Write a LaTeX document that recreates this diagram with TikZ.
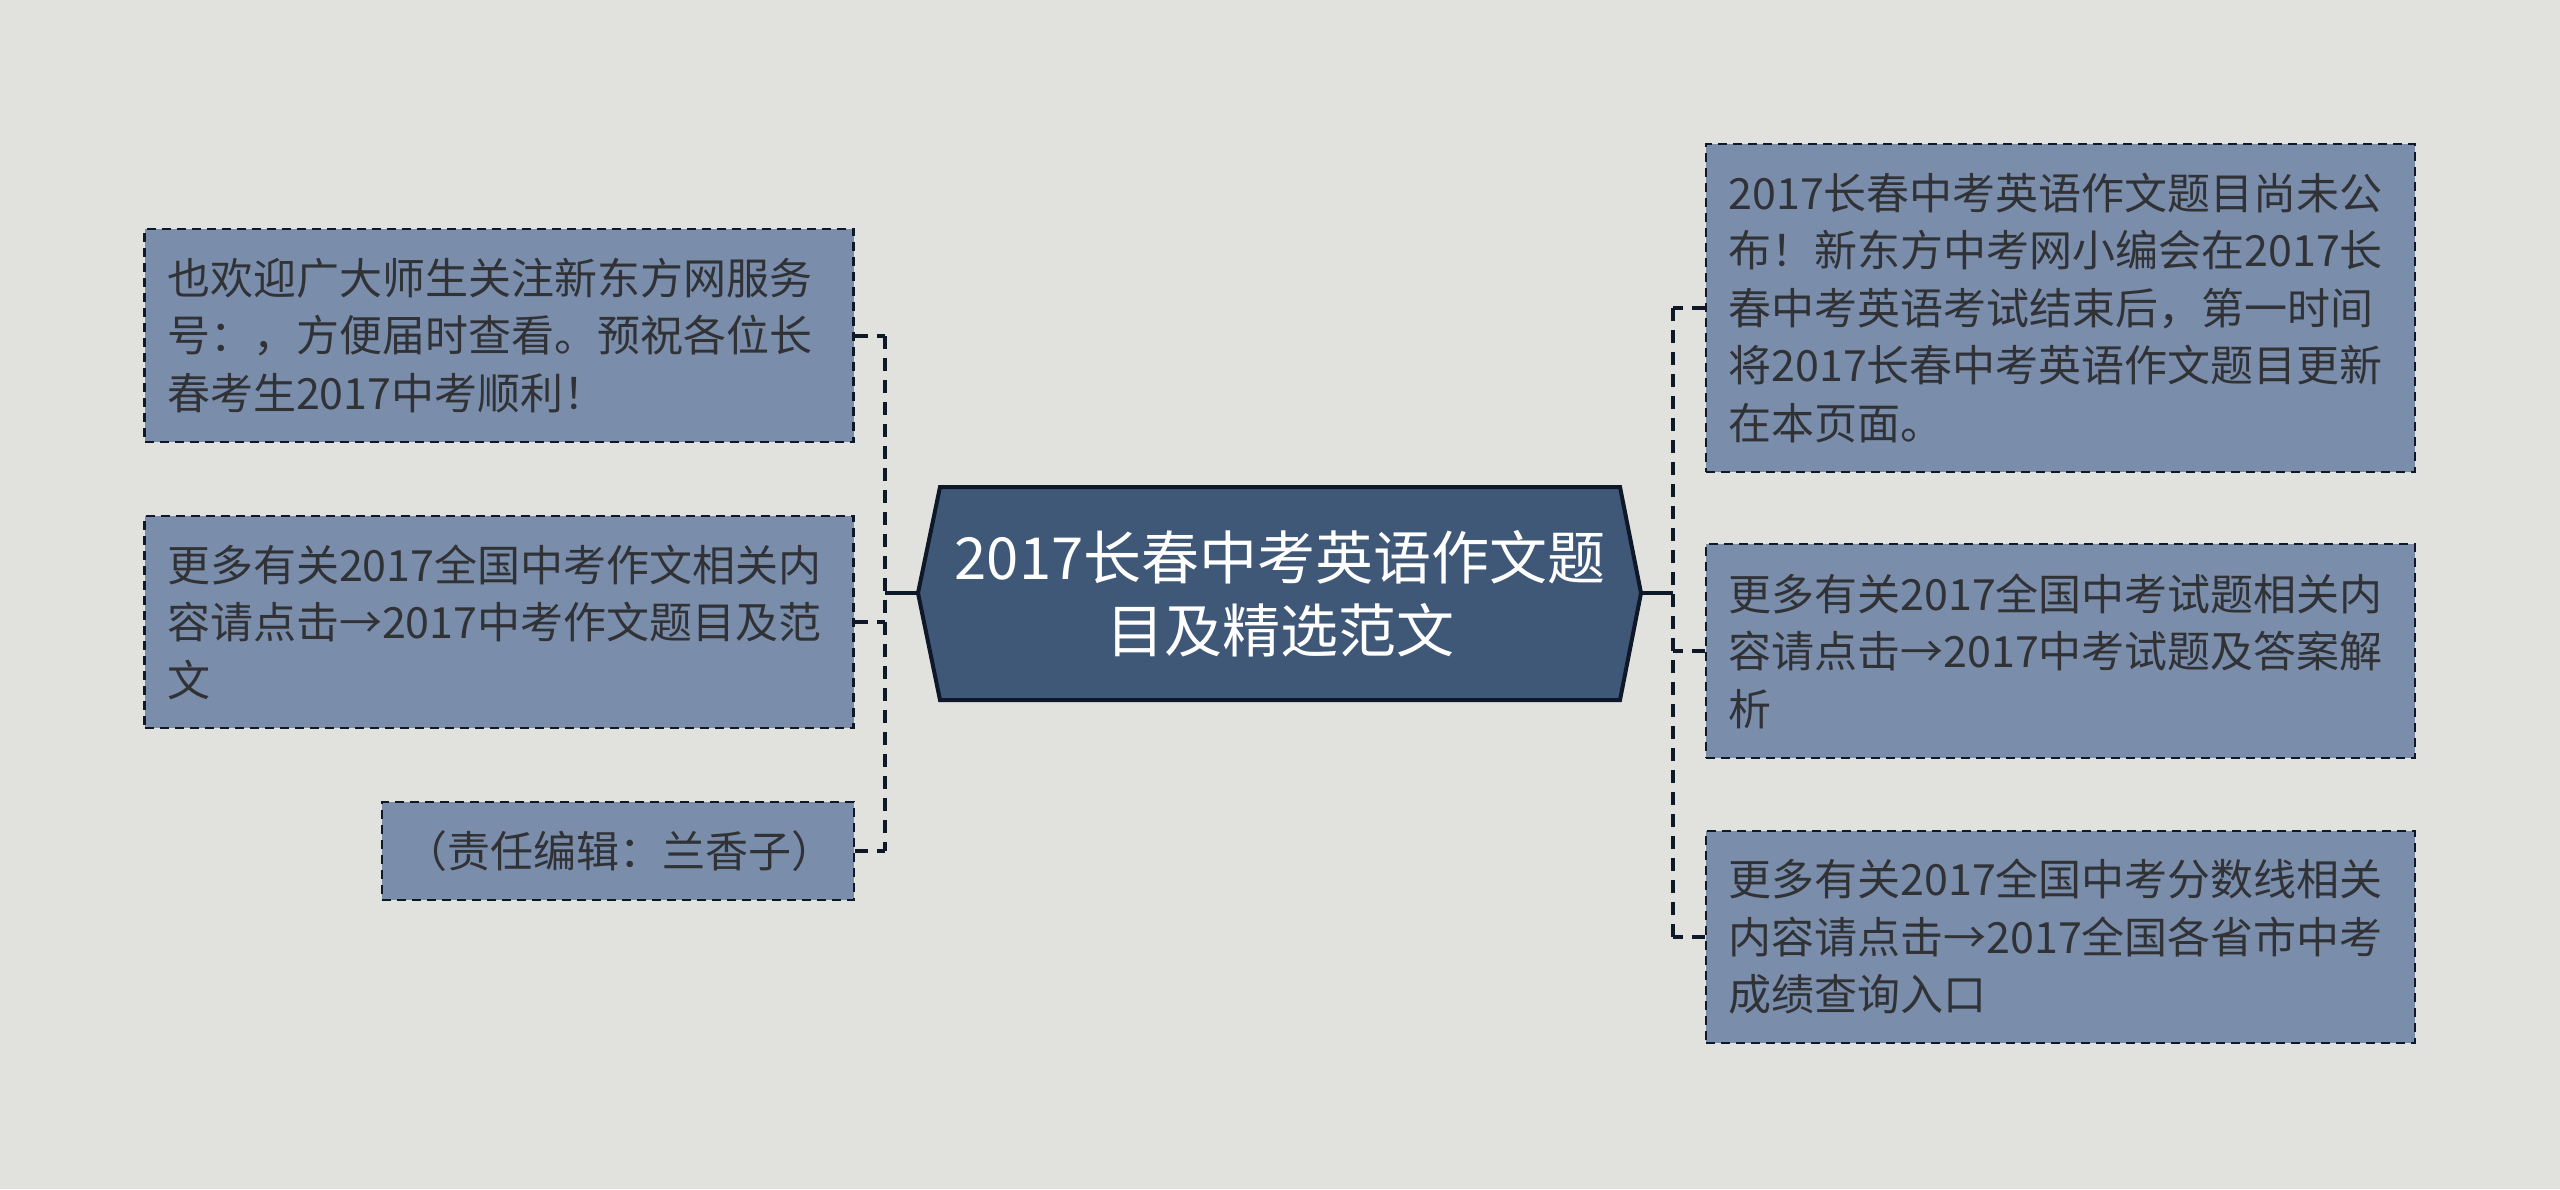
\documentclass[tikz,border=0pt]{standalone}
\usepackage{fontspec}
\newfontfamily\cjk{Noto Sans CJK SC}
\definecolor{bg}{HTML}{E1E2DE}
\definecolor{boxfill}{HTML}{7A8DAA}
\definecolor{hubfill}{HTML}{3F5877}
\definecolor{edge}{HTML}{0E1828}
\definecolor{txt}{HTML}{303236}
\tikzset{
  leaf/.style={draw=edge, fill=boxfill, line width=2.5pt, dash pattern=on 9pt off 6pt,
    text=txt, font=\cjk\fontsize{43}{57.5}\selectfont, align=left,
    text width=664pt, inner xsep=22.5pt, inner ysep=0pt, minimum width=709pt},
  hubtext/.style={text=white, font=\cjk\fontsize{58}{73}\selectfont, align=center, inner sep=0pt},
  busline/.style={draw=edge, line width=4pt, dash pattern=on 13pt off 9pt},
  solidline/.style={draw=edge, line width=4pt}
}
\begin{document}
\begin{tikzpicture}[x=1pt,y=-1pt]
\useasboundingbox[fill=bg] (0,0) rectangle (2560,1189);
% hub
\fill[hubfill, draw=edge, line width=4pt, line join=miter]
  (918,593) -- (940,487) -- (1620,487) -- (1641,593) -- (1620,700) -- (940,700) -- cycle;
\node[hubtext] (hub) at (1280,594) {2017长春中考英语作文题\\目及精选范文};
\coordinate (hubL) at (918,593);
\coordinate (hubR) at (1641,593);
\coordinate (busL) at (885,593);
\coordinate (busR) at (1673,593);
% left leaves
\node[leaf, minimum height=213pt] (L1) at (499,335.5) {也欢迎广大师生关注新东方网服务\\号：，方便届时查看。预祝各位长\\春考生2017中考顺利！};
\node[leaf, minimum height=212pt] (L2) at (499,622) {更多有关2017全国中考作文相关内\\容请点击→2017中考作文题目及范\\文};
\node[leaf, minimum height=98pt, minimum width=472pt, text width=427pt, align=center] (L3) at (618,851) {（责任编辑：兰香子）};
% right leaves
\node[leaf, minimum height=328pt] (R1) at (2060.5,308) {2017长春中考英语作文题目尚未公\\布！新东方中考网小编会在2017长\\春中考英语考试结束后，第一时间\\将2017长春中考英语作文题目更新\\在本页面。};
\node[leaf, minimum height=214pt] (R2) at (2060.5,651) {更多有关2017全国中考试题相关内\\容请点击→2017中考试题及答案解\\析};
\node[leaf, minimum height=212pt] (R3) at (2060.5,937) {更多有关2017全国中考分数线相关\\内容请点击→2017全国各省市中考\\成绩查询入口};
% connectors
\draw[solidline] (hubL) -- (busL);
\draw[solidline] (hubR) -- (busR);
\draw[busline] (L1.east -| busL) -- (L3.east -| busL);
\draw[busline] (L1.east) -- (L1.east -| busL);
\draw[busline] (L2.east) -- (L2.east -| busL);
\draw[busline] (L3.east) -- (L3.east -| busL);
\draw[busline] (R1.west -| busR) -- (R3.west -| busR);
\draw[busline] (R1.west) -- (R1.west -| busR);
\draw[busline] (R2.west) -- (R2.west -| busR);
\draw[busline] (R3.west) -- (R3.west -| busR);
\end{tikzpicture}
\end{document}
